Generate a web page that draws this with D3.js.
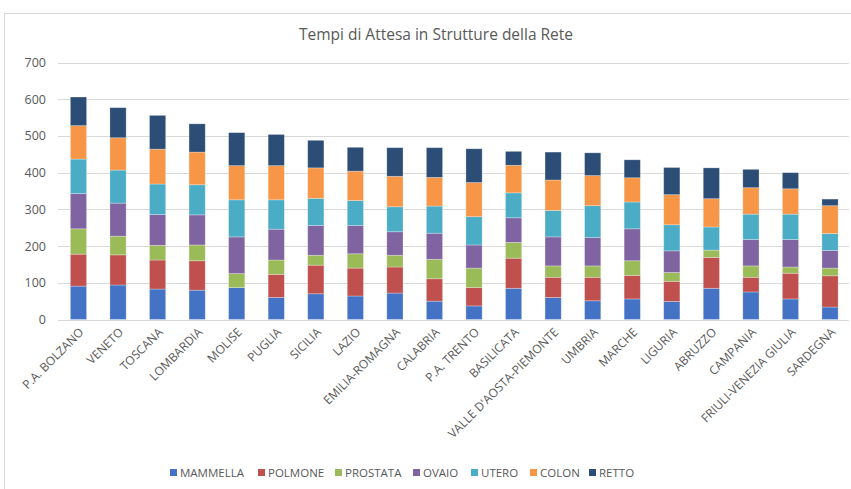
<!DOCTYPE html>
<html><head><meta charset="utf-8">
<script src="https://cdn.jsdelivr.net/npm/d3@7"></script>
<style>
html,body{margin:0;padding:0;background:#fff;}
svg{display:block;font-family:"Open Sans","Noto Sans",sans-serif;}
</style></head><body>
<svg id="chart" width="851" height="489"></svg>
<script>
const title = "Tempi di Attesa in Strutture della Rete";
const categories = ["P.A. BOLZANO","VENETO","TOSCANA","LOMBARDIA","MOLISE","PUGLIA","SICILIA","LAZIO","EMILIA-ROMAGNA","CALABRIA","P.A. TRENTO","BASILICATA","VALLE D'AOSTA-PIEMONTE","UMBRIA","MARCHE","LIGURIA","ABRUZZO","CAMPANIA","FRIULI-VENEZIA GIULIA","SARDEGNA"];
const seriesNames = ["MAMMELLA","POLMONE","PROSTATA","OVAIO","UTERO","COLON","RETTO"];
const mammella = [91,94,83,80,87,60,70,64,72,50,37,85,60,51,56,49,85,75,56,34];
const polmone  = [87,82,79,80,0,63,78,76,71,61,50,82,55,64,64,55,84,40,70,85];
const prostata = [69,51,40,43,38,39,27,39,32,53,53,43,31,31,40,24,20,31,17,21];
const ovaio    = [96,90,84,82,100,84,81,77,64,71,63,67,79,77,87,59,0,72,75,48];
const utero    = [94,90,83,82,101,80,74,68,68,74,77,68,72,87,73,71,63,69,69,46];
const colon    = [91,88,95,89,93,93,83,80,83,78,93,75,83,82,66,82,77,72,69,76];
const retto    = [78,82,92,77,90,85,75,65,78,81,92,38,76,62,49,74,84,50,44,18];
const yTicks = [0,100,200,300,400,500,600,700];
const colors = ["#4472C4","#C0504D","#9BBB59","#8064A2","#4BACC6","#F79646","#2C4D75"];

const seriesValues = [mammella,polmone,prostata,ovaio,utero,colon,retto];
const rows = categories.map((c,i)=>{const r={cat:c}; seriesNames.forEach((s,j)=>r[s]=seriesValues[j][i]); return r;});
const stacked = d3.stack().keys(seriesNames)(rows);

const svg = d3.select("#chart");
const x = d3.scaleBand().domain(categories).range([58.7, 849.8]).paddingInner(0.59).paddingOuter(0.295);
const y = d3.scaleLinear().domain([0,700]).range([319.5, 62.5]);

// frame
svg.append("rect").attr("x",4.5).attr("y",13.5).attr("width",860).attr("height",490)
  .attr("fill","none").attr("stroke","#d9d9d9");

// gridlines
svg.append("g").selectAll("line").data(yTicks).join("line")
  .attr("x1",58).attr("x2",849).attr("y1",d=>Math.round(y(d))+0.5).attr("y2",d=>Math.round(y(d))+0.5)
  .attr("stroke","#d9d9d9").attr("stroke-width",1);

// y axis labels
const yAxis = d3.axisLeft(y).tickValues(yTicks).tickSize(0).tickPadding(0);
const ya = svg.append("g").attr("transform","translate(46,0)").call(yAxis);
ya.select(".domain").remove();
ya.selectAll("text").attr("fill","#595959").style("font-size","12.5px").style("font-family","'Open Sans',sans-serif");

// bars
svg.append("g").selectAll("g").data(stacked).join("g")
  .attr("fill",(d,i)=>colors[i])
  .selectAll("rect").data(d=>d).join("rect")
  .attr("x",d=>x(d.data.cat)).attr("width",x.bandwidth())
  .attr("y",d=>y(d[1])).attr("height",d=>Math.max(0,y(d[0])-y(d[1])))
  .attr("stroke","#ffffff").attr("stroke-opacity",0.35).attr("stroke-width",0.8);

// x axis labels
const xAxis = d3.axisBottom(x).tickSize(0).tickPadding(0);
const xa = svg.append("g").attr("transform","translate(0,324)").call(xAxis);
xa.select(".domain").remove();
xa.selectAll("text")
  .attr("fill","#595959").style("font-size","12px").style("font-family","'Open Sans',sans-serif")
  .attr("text-anchor","end").attr("dy","0.35em")
  .attr("transform","translate(3,6) rotate(-45)");

// title
svg.append("text").attr("x",436).attr("y",40).attr("text-anchor","middle")
  .attr("fill","#595959").style("font-size","15.5px").text(title);

// legend
const legendX = [170,258,335,413,471,530,589];
const lg = svg.append("g").selectAll("g").data(seriesNames).join("g")
  .attr("transform",(d,i)=>`translate(${legendX[i]},473)`);
lg.append("rect").attr("x",0).attr("y",-4).attr("width",7).attr("height",7).attr("fill",(d,i)=>colors[i]);
lg.append("text").attr("x",10).attr("y",0).attr("dy","0.35em").attr("fill","#595959")
  .style("font-size","11.5px").text(d=>d);
</script>
</body></html>
